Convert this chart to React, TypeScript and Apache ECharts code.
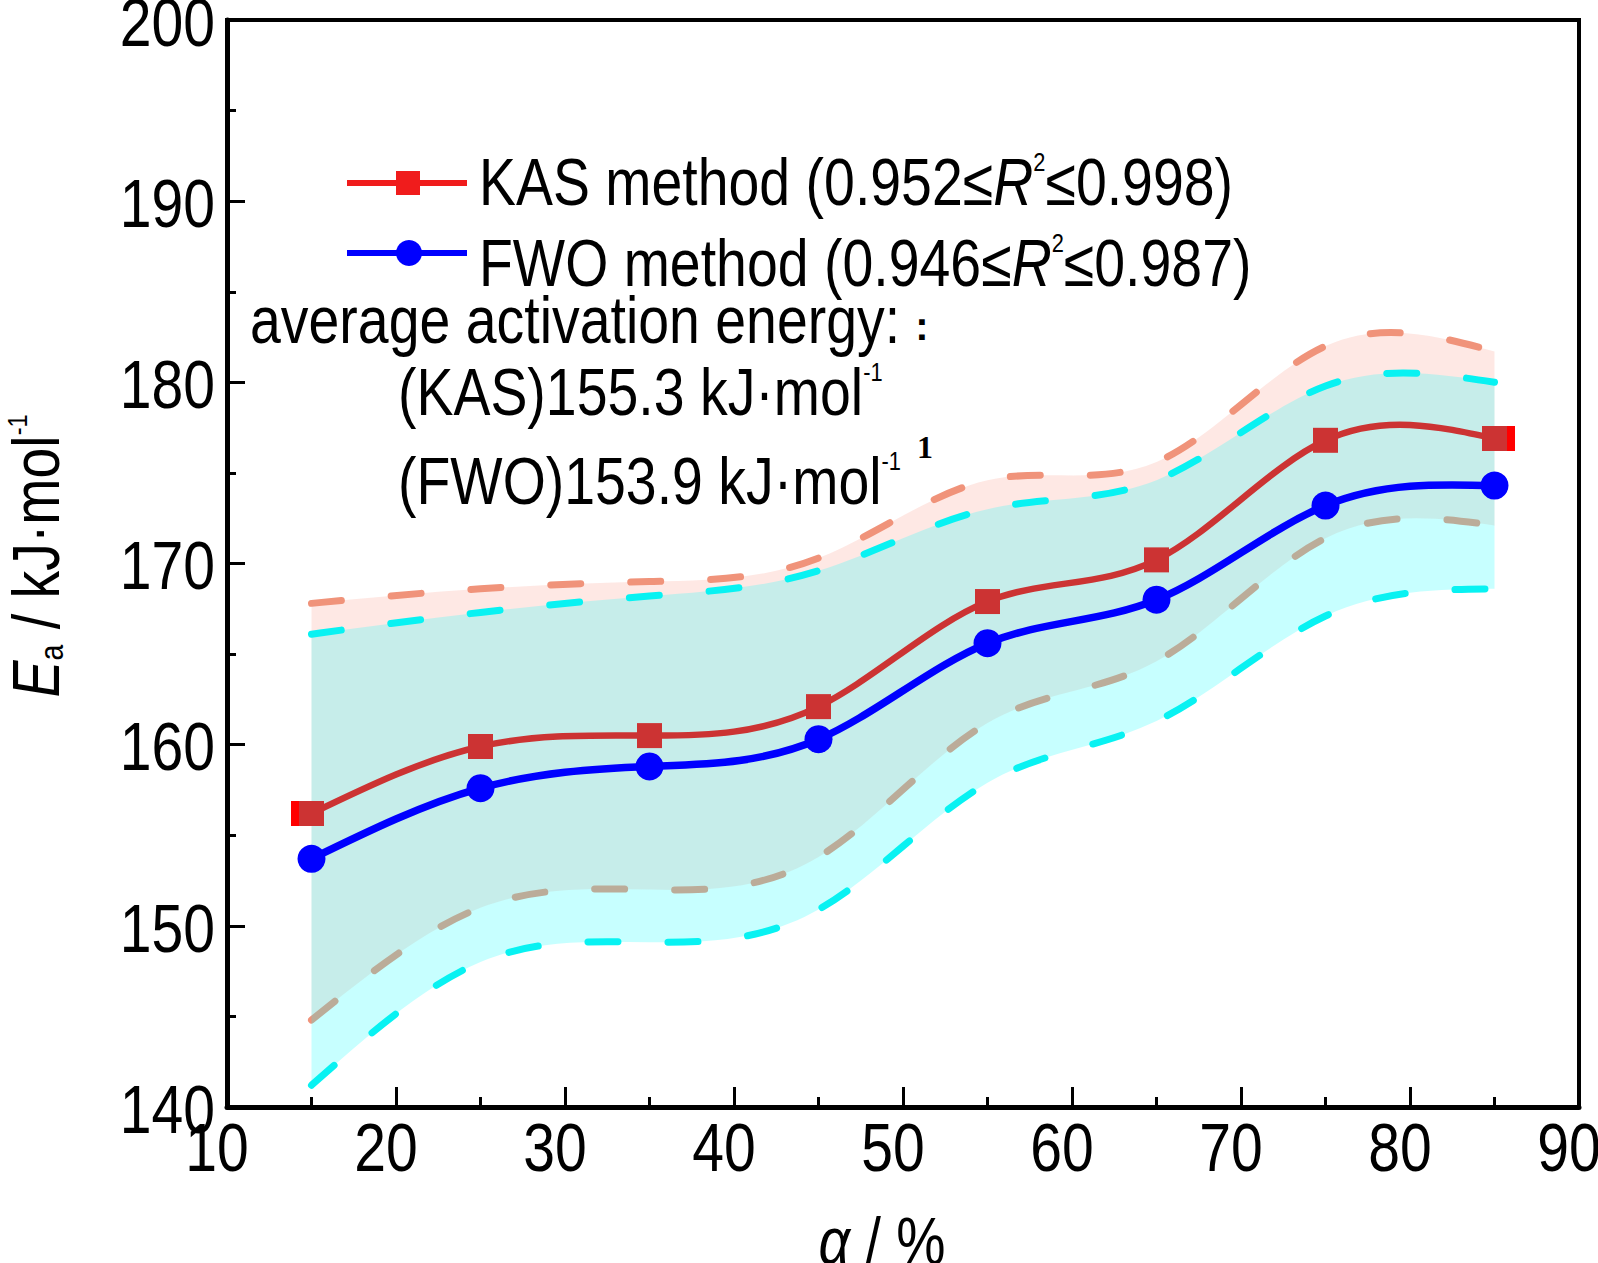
import React, { useEffect, useRef } from "react";
import * as echarts from "echarts";

// ---- data ----
const alpha = [15, 25, 35, 45, 55, 65, 75, 85];
const kasEa = [156.2, 159.9, 160.5, 162.1, 167.9, 170.2, 176.8, 176.9];
const fwoEa = [153.7, 157.6, 158.8, 160.3, 165.6, 168.0, 173.2, 174.3];
const kasUpper = [167.8, 168.6, 169.0, 170.3, 174.6, 175.6, 182.0, 181.7];
const kasLower = [144.8, 151.0, 152.0, 153.8, 161.2, 164.6, 171.4, 172.1];
const fwoUpper = [166.1, 167.3, 168.2, 169.6, 173.0, 174.6, 179.8, 180.0];
const fwoLower = [141.2, 148.0, 149.1, 150.9, 157.9, 161.3, 167.1, 168.6];

const xTickLabels = [10, 20, 30, 40, 50, 60, 70, 80, 90];
const yTickLabels = [140, 150, 160, 170, 180, 190, 200];

const kasLabel = "KAS method";
const fwoLabel = "FWO method";
const kasR2 = ["0.952", "0.998"];
const fwoR2 = ["0.946", "0.987"];
const avgTitle = "average activation energy:";
const kasAvg = "(KAS)155.3 kJ·mol";
const fwoAvg = "(FWO)153.9 kJ·mol";

const FONT = "'Liberation Sans Narrow', 'Arial Narrow', 'Liberation Sans', Arial, sans-serif";
const NARROW = 0.84; // horizontal squeeze to mimic Arial Narrow

const KAS_LINE = "#cc3333";
const KAS_LEG = "#f01c1c";
const FWO_LINE = "#0000ff";
const SALMON = "#f0937a";
const CYAN = "#08f2f2";
const PINK_FILL = "rgba(250,140,120,0.2)";
const CYAN_FILL = "rgba(20,255,255,0.24)";

const pairs = (ys: number[]) => alpha.map((a, i) => [a, ys[i]]);
const triples = (lo: number[], hi: number[]) => alpha.map((a, i) => [a, lo[i], hi[i]]);

// ---- natural cubic spline (in pixel space) as bezier segments ----
type P = number[];
function splineSegments(pts: P[]): P[][] {
  const n = pts.length;
  if (n < 2) return [];
  const x = pts.map((p) => p[0]);
  const y = pts.map((p) => p[1]);
  const h: number[] = [];
  for (let i = 0; i < n - 1; i++) h.push(x[i + 1] - x[i]);
  const M = new Array(n).fill(0);
  if (n > 2) {
    const a: number[] = [], b: number[] = [], c: number[] = [], d: number[] = [];
    for (let i = 1; i < n - 1; i++) {
      a.push(h[i - 1]);
      b.push(2 * (h[i - 1] + h[i]));
      c.push(h[i]);
      d.push(6 * ((y[i + 1] - y[i]) / h[i] - (y[i] - y[i - 1]) / h[i - 1]));
    }
    const m = b.length;
    for (let i = 1; i < m; i++) {
      const w = a[i] / b[i - 1];
      b[i] -= w * c[i - 1];
      d[i] -= w * d[i - 1];
    }
    const sol = new Array(m).fill(0);
    sol[m - 1] = d[m - 1] / b[m - 1];
    for (let i = m - 2; i >= 0; i--) sol[i] = (d[i] - c[i] * sol[i + 1]) / b[i];
    for (let i = 0; i < m; i++) M[i + 1] = sol[i];
  }
  const segs: P[][] = [];
  for (let i = 0; i < n - 1; i++) {
    const hi = h[i];
    const s = (y[i + 1] - y[i]) / hi;
    const m0 = s - (hi * (2 * M[i] + M[i + 1])) / 6;
    const m1 = s + (hi * (M[i] + 2 * M[i + 1])) / 6;
    segs.push([
      [x[i], y[i]],
      [x[i] + hi / 3, y[i] + (m0 * hi) / 3],
      [x[i + 1] - hi / 3, y[i + 1] - (m1 * hi) / 3],
      [x[i + 1], y[i + 1]],
    ]);
  }
  return segs;
}
const f = (v: number) => v.toFixed(2);
function curvePath(pts: P[]): string {
  const segs = splineSegments(pts);
  let d = `M${f(pts[0][0])},${f(pts[0][1])}`;
  segs.forEach((s) => (d += `C${f(s[1][0])},${f(s[1][1])} ${f(s[2][0])},${f(s[2][1])} ${f(s[3][0])},${f(s[3][1])}`));
  return d;
}
function bandPath(upper: P[], lower: P[]): string {
  let d = curvePath(upper);
  const segs = splineSegments(lower).reverse();
  const last = lower[lower.length - 1];
  d += `L${f(last[0])},${f(last[1])}`;
  segs.forEach((s) => (d += `C${f(s[2][0])},${f(s[2][1])} ${f(s[1][0])},${f(s[1][1])} ${f(s[0][0])},${f(s[0][1])}`));
  return d + "Z";
}

// custom series drawing a spline through its data via the axes' scales
const curveSeries = (name: string, ys: number[], style: any, z: number) => ({
  name,
  type: "custom",
  z,
  silent: true,
  clip: false,
  data: pairs(ys),
  encode: { x: 0, y: 1 },
  renderItem: (params: any, api: any) => {
    if (params.dataIndexInside !== 0) return null;
    const n = params.dataInsideLength;
    const pts: P[] = [];
    for (let i = 0; i < n; i++) pts.push(api.coord([api.value(0, i), api.value(1, i)]));
    return { type: "path", shape: { pathData: curvePath(pts) }, style: { fill: "none", ...style } };
  },
});

const bandSeries = (name: string, lo: number[], hi: number[], fill: string, z: number) => ({
  name,
  type: "custom",
  z,
  silent: true,
  clip: false,
  data: triples(lo, hi),
  encode: { x: 0, y: [1, 2] },
  renderItem: (params: any, api: any) => {
    if (params.dataIndexInside !== 0) return null;
    const n = params.dataInsideLength;
    const up: P[] = [], dn: P[] = [];
    for (let i = 0; i < n; i++) {
      dn.push(api.coord([api.value(0, i), api.value(1, i)]));
      up.push(api.coord([api.value(0, i), api.value(2, i)]));
    }
    return { type: "path", shape: { pathData: bandPath(up, dn) }, style: { fill, stroke: "none" } };
  },
});

const dashStyle = (color: string) => ({ stroke: color, lineWidth: 7, lineDash: [30, 50], lineCap: "round" });

const txt = (fontSize: number, extra: any = {}) => ({
  fontFamily: FONT,
  fontSize,
  lineHeight: fontSize,
  fill: "#000",
  ...extra,
});

export default function App() {
  const ref = useRef<HTMLDivElement>(null);
  useEffect(() => {
    document.body.style.margin = "0";
    if (!ref.current) return;
    const chart = echarts.init(ref.current, undefined, { renderer: "svg" });
    const axisCommon = {
      type: "value",
      z: 10,
      axisLine: { show: true, onZero: false, lineStyle: { color: "#000", width: 5 } },
      splitLine: { show: false },
      axisLabel: { show: false },
    };
    chart.setOption({
      animation: false,
      backgroundColor: "#ffffff",
      grid: {
        left: 227,
        right: 19,
        top: 20,
        bottom: 156,
        outerBoundsMode: "none",
        containLabel: false,
        show: true,
        borderColor: "#000",
        borderWidth: 4,
        backgroundColor: "transparent",
      },
      xAxis: {
        ...axisCommon,
        min: xTickLabels[0],
        max: xTickLabels[xTickLabels.length - 1],
        interval: xTickLabels[1] - xTickLabels[0],
        axisTick: { show: true, inside: true, length: 20, lineStyle: { color: "#000", width: 3 } },
        minorTick: { show: true, splitNumber: 2, length: 10, lineStyle: { color: "#000", width: 3 } },
      },
      yAxis: {
        ...axisCommon,
        min: yTickLabels[0],
        max: yTickLabels[yTickLabels.length - 1],
        interval: yTickLabels[1] - yTickLabels[0],
        axisTick: { show: true, inside: true, length: 18, lineStyle: { color: "#000", width: 3 } },
        minorTick: { show: true, splitNumber: 2, length: 9, lineStyle: { color: "#000", width: 3 } },
      },
      series: [
        bandSeries("KAS band", kasLower, kasUpper, PINK_FILL, 1),
        curveSeries("KAS upper", kasUpper, dashStyle(SALMON), 2),
        curveSeries("KAS lower", kasLower, dashStyle(SALMON), 2),
        bandSeries("FWO band", fwoLower, fwoUpper, CYAN_FILL, 3),
        curveSeries("FWO upper", fwoUpper, dashStyle(CYAN), 4),
        curveSeries("FWO lower", fwoLower, dashStyle(CYAN), 4),
        {
          name: "KAS raw",
          type: "scatter",
          z: 5,
          symbol: "rect",
          symbolSize: 25,
          itemStyle: { color: "#ff0000", opacity: 1 },
          data: [
            { value: [alpha[0], kasEa[0]], symbolOffset: [-8, 0] },
            { value: [alpha[alpha.length - 1], kasEa[kasEa.length - 1]], symbolOffset: [8, 0] },
          ],
        },
        curveSeries(kasLabel + " curve", kasEa, { stroke: KAS_LINE, lineWidth: 6.5, lineJoin: "round" }, 6),
        {
          name: kasLabel,
          type: "scatter",
          z: 7,
          data: pairs(kasEa),
          symbol: "rect",
          symbolSize: 25,
          itemStyle: { color: KAS_LINE, opacity: 1 },
        },
        curveSeries(fwoLabel + " curve", fwoEa, { stroke: FWO_LINE, lineWidth: 7.5, lineJoin: "round" }, 8),
        {
          name: fwoLabel,
          type: "scatter",
          z: 9,
          data: pairs(fwoEa),
          symbol: "circle",
          symbolSize: 28,
          itemStyle: { color: FWO_LINE, opacity: 1 },
        },
      ],
    });

    const richLeg = {
      t: txt(66),
      i: txt(66, { fontStyle: "italic" }),
      s: txt(26, { lineHeight: 26, verticalAlign: "top" }),
    };

    // tick labels placed through the axes' own scales
    const tickTexts: any[] = [];
    xTickLabels.forEach((v) => {
      const px = chart.convertToPixel({ xAxisIndex: 0 }, v) as number;
      const py = chart.convertToPixel({ yAxisIndex: 0 }, yTickLabels[0]) as number;
      tickTexts.push({
        type: "text", z: 50, x: px - 10, y: py + 40, scaleX: NARROW,
        style: { text: String(v), fontFamily: FONT, fontSize: 68, fill: "#000", align: "center", verticalAlign: "middle" },
      });
    });
    yTickLabels.forEach((v) => {
      const py = chart.convertToPixel({ yAxisIndex: 0 }, v) as number;
      const px = chart.convertToPixel({ xAxisIndex: 0 }, xTickLabels[0]) as number;
      tickTexts.push({
        type: "text", z: 50, x: px - 12, y: py + 2, scaleX: NARROW,
        style: { text: String(v), fontFamily: FONT, fontSize: 68, fill: "#000", align: "right", verticalAlign: "middle" },
      });
    });

    chart.setOption({
      graphic: [
        ...tickTexts,
        // legend samples
        { type: "line", z: 100, shape: { x1: 347, y1: 183, x2: 467, y2: 183 }, style: { stroke: KAS_LEG, lineWidth: 6 } },
        { type: "rect", z: 101, shape: { x: 396, y: 171, width: 24, height: 24 }, style: { fill: KAS_LEG } },
        { type: "line", z: 100, shape: { x1: 347, y1: 253, x2: 467, y2: 253 }, style: { stroke: FWO_LINE, lineWidth: 6 } },
        { type: "circle", z: 101, shape: { cx: 409, cy: 253, r: 13 }, style: { fill: FWO_LINE } },
        {
          type: "text", z: 100, x: 479, y: 182, scaleX: NARROW,
          style: {
            text: `{t|${kasLabel} (${kasR2[0]}≤}{i|R}{s|2}{t|≤${kasR2[1]})}`,
            align: "left", verticalAlign: "middle", rich: richLeg,
          },
        },
        {
          type: "text", z: 100, x: 479, y: 263, scaleX: NARROW,
          style: {
            text: `{t|${fwoLabel} (${fwoR2[0]}≤}{i|R}{s|2}{t|≤${fwoR2[1]})}`,
            align: "left", verticalAlign: "middle", rich: richLeg,
          },
        },
        {
          type: "text", z: 100, x: 250, y: 320, scaleX: NARROW,
          style: { text: `{t|${avgTitle}}`, align: "left", verticalAlign: "middle", rich: richLeg },
        },
        {
          type: "text", z: 100, x: 922, y: 326,
          style: { text: ":", fontFamily: "'Liberation Sans', Arial, sans-serif", fontSize: 40, fontWeight: "bold", fill: "#000", align: "center", verticalAlign: "middle" },
        },
        {
          type: "text", z: 100, x: 398, y: 392, scaleX: NARROW,
          style: { text: `{t|${kasAvg}}{s|-1}`, align: "left", verticalAlign: "middle", rich: richLeg },
        },
        {
          type: "text", z: 100, x: 398, y: 481, scaleX: NARROW,
          style: { text: `{t|${fwoAvg}}{s|-1}`, align: "left", verticalAlign: "middle", rich: richLeg },
        },
        {
          type: "text", z: 100, x: 925, y: 447,
          style: { text: "1", fontFamily: "'Liberation Serif', 'Times New Roman', serif", fontSize: 32, fontWeight: "bold", fill: "#000", align: "center", verticalAlign: "middle" },
        },
        // axis titles
        {
          type: "text", z: 100, x: 36, y: 556, rotation: Math.PI / 2, scaleX: NARROW,
          style: {
            text: "{e|E}{a|a}{t| / kJ·mol}{s|-1}",
            align: "center", verticalAlign: "middle",
            rich: {
              e: txt(66, { fontStyle: "italic" }),
              a: txt(34, { lineHeight: 34, verticalAlign: "bottom" }),
              t: txt(66),
              s: txt(28, { lineHeight: 28, verticalAlign: "top" }),
            },
          },
        },
        {
          type: "text", z: 100, x: 882, y: 1241, scaleX: NARROW,
          style: {
            text: "{g|α}{t| / %}",
            align: "center", verticalAlign: "middle",
            rich: { g: txt(66, { fontStyle: "italic" }), t: txt(66) },
          },
        },
      ],
    });
    return () => chart.dispose();
  }, []);
  return <div ref={ref} style={{ width: 1598, height: 1263 }} />;
}
